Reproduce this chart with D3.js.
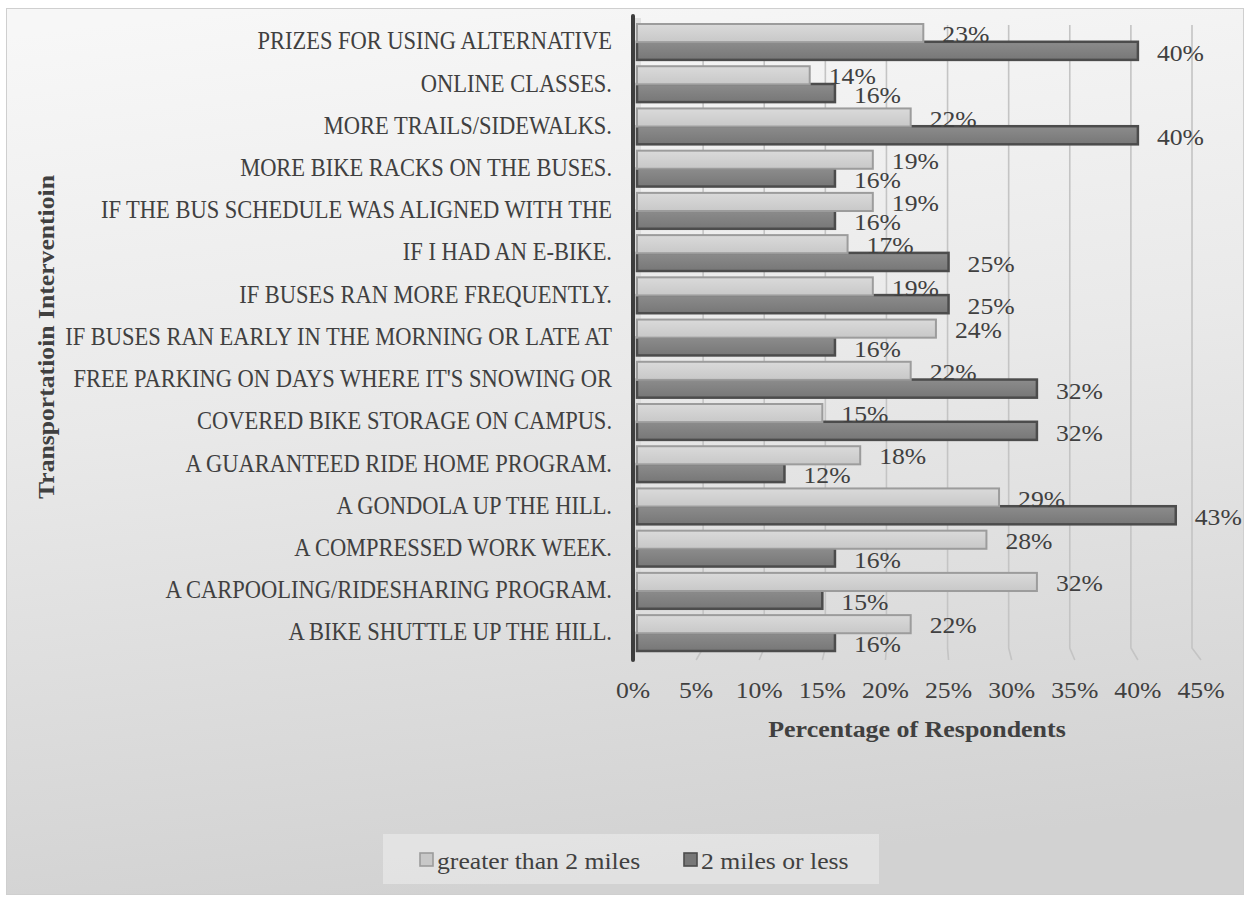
<!DOCTYPE html>
<html>
<head>
<meta charset="utf-8">
<script src="https://cdn.jsdelivr.net/npm/d3@7/dist/d3.min.js"></script>
<style>
  html, body { margin: 0; padding: 0; background: #ffffff; }
  svg { display: block; }
</style>
</head>
<body>
<svg id="chart" width="1250" height="901"></svg>
<script>
// Survey: which interventions would change how respondents travel to campus
const categories = [
  "PRIZES FOR USING ALTERNATIVE",
  "ONLINE CLASSES.",
  "MORE TRAILS/SIDEWALKS.",
  "MORE BIKE RACKS ON THE BUSES.",
  "IF THE BUS SCHEDULE WAS ALIGNED WITH THE",
  "IF I HAD AN E-BIKE.",
  "IF BUSES RAN MORE FREQUENTLY.",
  "IF BUSES RAN EARLY IN THE MORNING OR LATE AT",
  "FREE PARKING ON DAYS WHERE IT'S SNOWING OR",
  "COVERED BIKE STORAGE ON CAMPUS.",
  "A GUARANTEED RIDE HOME PROGRAM.",
  "A GONDOLA UP THE HILL.",
  "A COMPRESSED WORK WEEK.",
  "A CARPOOLING/RIDESHARING PROGRAM.",
  "A BIKE SHUTTLE UP THE HILL."
];
const seriesNames = ["greater than 2 miles", "2 miles or less"];
const greaterThan2 = [23, 14, 22, 19, 19, 17, 19, 24, 22, 15, 18, 29, 28, 32, 22];
const twoOrLess    = [40, 16, 40, 16, 16, 25, 25, 16, 32, 32, 12, 43, 16, 15, 16];
const tickValues = [0, 5, 10, 15, 20, 25, 30, 35, 40, 45];
const xTitle = "Percentage of Respondents";
const yTitle = "Transportatioin Interventioin";

const seriesValues = [greaterThan2, twoOrLess];
const rows = categories.map((c, i) => ({
  category: c,
  values: seriesNames.map((s, j) => ({ series: s, value: seriesValues[j][i] }))
}));

const svg = d3.select("#chart");
const FONT = "'Liberation Serif', 'Times New Roman', serif";
const TEXT = "#404040";

const defs = svg.append("defs");
const bg = defs.append("linearGradient").attr("id", "bg")
  .attr("x1", "0.2").attr("y1", "0").attr("x2", "0.35").attr("y2", "1");
bg.append("stop").attr("offset", "0").attr("stop-color", "#f7f7f7");
bg.append("stop").attr("offset", "0.45").attr("stop-color", "#e9e9e9");
bg.append("stop").attr("offset", "1").attr("stop-color", "#d2d2d2");

const fills = [
  { id: "gLight", top: "#dadada", bot: "#c8c8c8", stroke: "#9c9c9c", sw: 2 },
  { id: "gDark",  top: "#8c8c8c", bot: "#777777", stroke: "#4c4c4c", sw: 2.5 }
];
fills.forEach(f => {
  const g = defs.append("linearGradient").attr("id", f.id)
    .attr("x1", 0).attr("y1", 0).attr("x2", 0).attr("y2", 1);
  g.append("stop").attr("offset", "0").attr("stop-color", f.top);
  g.append("stop").attr("offset", "1").attr("stop-color", f.bot);
});
const color = d3.scaleOrdinal().domain(seriesNames).range(fills);

// chart area
svg.append("rect").attr("x", 6.5).attr("y", 8.5).attr("width", 1237).attr("height", 886)
  .attr("fill", "url(#bg)").attr("stroke", "#cfcfcf").attr("stroke-width", 1);

// scales: front plane (bars, tick labels) and back wall (gridlines)
const x = d3.scaleLinear().domain([0, 45]).range([633, 1201]);
const xBack = d3.scaleLinear().domain([0, 45]).range([642, 1192]);
const y = d3.scaleBand().domain(categories).range([24, 651]).paddingInner(0.15).paddingOuter(0);
const ySub = d3.scaleBand().domain(seriesNames).range([0, y.bandwidth()]).paddingInner(-0.02);

const pct = v => d3.format(".0%")(v / 100);

// text helper with a horizontal stretch factor
function label(parent, tx, ty, str, opts) {
  const g = parent.append("g").attr("transform", `translate(${tx},${ty})`);
  g.append("text")
    .attr("transform", `scale(${opts.sx || 1},1)`)
    .attr("font-family", FONT)
    .attr("font-size", opts.size || 24)
    .attr("font-weight", opts.weight || "normal")
    .attr("fill", opts.fill || TEXT)
    .attr("text-anchor", opts.anchor || "start")
    .attr("dominant-baseline", opts.baseline || "central")
    .text(str);
  return g;
}

// gridlines on the back wall, bending onto the floor
const gridY0 = 25, gridY1 = 648, floorY = 660;
svg.append("g").selectAll("path")
  .data(tickValues.filter(v => v > 0))
  .join("path")
  .attr("d", v => `M${xBack(v)},${gridY0}L${xBack(v)},${gridY1}L${x(v)},${floorY}`)
  .attr("fill", "none")
  .attr("stroke", "#c4c4c4")
  .attr("stroke-width", 1.6);

// left wall strip
svg.append("rect").attr("x", 634).attr("y", 18).attr("width", 7).attr("height", 640)
  .attr("fill", "#dcdcdc").attr("opacity", 0.8);

// bars
const barX0 = x(0) + 4;
const rowG = svg.append("g").selectAll("g")
  .data(rows)
  .join("g")
  .attr("transform", d => `translate(0,${y(d.category)})`);

// dark series first so the lighter bar sits over its top edge
rowG.selectAll("rect")
  .data(d => d.values.slice().reverse())
  .join("rect")
  .attr("x", barX0)
  .attr("y", d => ySub(d.series))
  .attr("width", d => Math.max(0, x(d.value) - barX0))
  .attr("height", ySub.bandwidth())
  .attr("fill", d => `url(#${color(d.series).id})`)
  .attr("stroke", d => color(d.series).stroke)
  .attr("stroke-width", d => color(d.series).sw);

// value labels
rowG.each(function (d) {
  const g = d3.select(this);
  d.values.forEach((v, j) => {
    label(g, x(v.value) + 19, ySub(v.series) + ySub.bandwidth() / 2 + (j === 0 ? 1 : 2),
      pct(v.value), { size: 24, sx: 1.07 });
  });
});

// vertical axis line
svg.append("line").attr("x1", 633).attr("x2", 633).attr("y1", 16).attr("y2", 660)
  .attr("stroke", "#3d3d3d").attr("stroke-width", 4).attr("stroke-linecap", "round");

// category labels
const catG = svg.append("g");
categories.forEach(c => {
  label(catG, 612, y(c) + y.bandwidth() / 2 - 1, c, { size: 25, sx: 0.9, anchor: "end" });
});

// x tick labels
const tickG = svg.append("g");
tickValues.forEach(v => {
  label(tickG, x(v), 690, pct(v), { size: 24, sx: 1.07, anchor: "middle" });
});

// axis titles
label(svg, (x(0) + x(45)) / 2, 729, xTitle, { size: 24, sx: 1.08, anchor: "middle", weight: "bold" });
const yt = svg.append("g").attr("transform", "translate(46,337) rotate(-90)");
label(yt, 0, 0, yTitle, { size: 24, sx: 1.07, anchor: "middle", weight: "bold" });

// legend
const legend = svg.append("g");
legend.append("rect").attr("x", 383).attr("y", 834).attr("width", 496).attr("height", 50)
  .attr("fill", "#ffffff").attr("opacity", 0.35);
const legendX = [419, 683];
seriesNames.forEach((s, i) => {
  const f = color(s);
  legend.append("rect").attr("x", legendX[i] + 1).attr("y", 853).attr("width", 13).attr("height", 13)
    .attr("fill", f.bot).attr("stroke", f.stroke).attr("stroke-width", 1.6);
  label(legend, legendX[i] + 18, 861, s, { size: 24, sx: 1.07 });
});
</script>
</body>
</html>
